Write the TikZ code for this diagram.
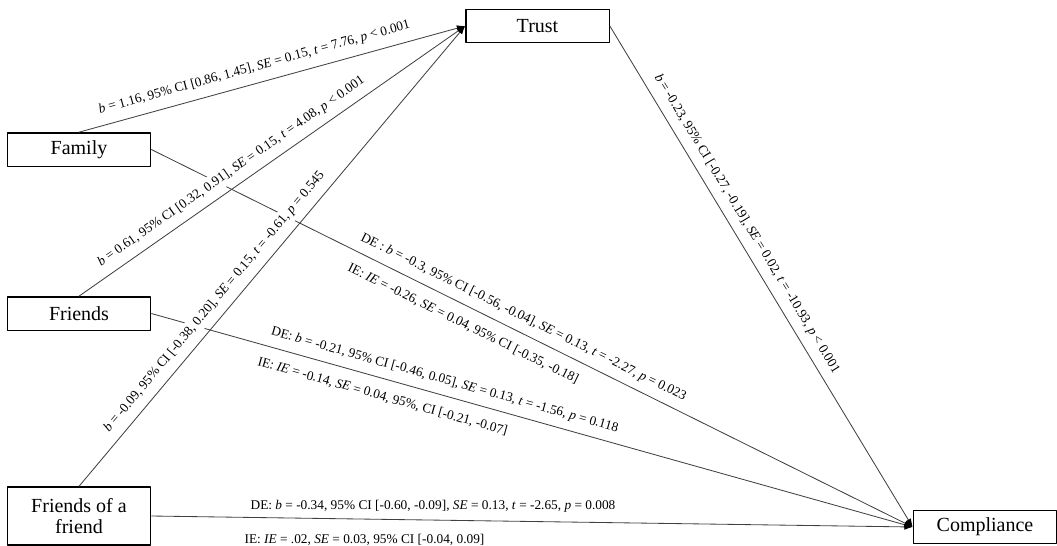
\documentclass[tikz,border=0pt]{standalone}
\usepackage{fontspec}
\setmainfont{Liberation Serif}
\usetikzlibrary{arrows.meta}
\begin{document}
\begin{tikzpicture}[x=0.6pt, y=-0.6pt, font=\fontsize{8}{9.6}\selectfont, line join=round, >={Latex[length=5pt,width=3.6pt,color=black]},
	box/.style={draw, line width=0.8pt, minimum width=86pt, minimum height=20pt, inner sep=2pt, align=center, font=\fontsize{12}{13}\selectfont},
	conn/.style={->, draw=black!75, line width=0.5pt},
	lab/.style={sloped, inner sep=2pt}]
	\useasboundingbox (0,0) rectangle (1057,546); % whole page
	\node[box] (trust) at (537.5,26) {Trust};
	\node[box] (family) at (79,149.5) {Family};
	\node[box] (friends) at (79,313.5) {Friends};
	\node[box, minimum height=34.8pt] (foaf) at (79,516) {Friends of a\\friend};
	\node[box] (compliance) at (985,527) {Compliance};
	% direct paths first, the labels on the trust paths cover them
	\draw[conn] (family.east) -- (compliance.west)
		node[lab, pos=0.48, above=3pt] {DE : \textit{b} = -0.3, 95\% CI [-0.56, -0.04], \textit{SE} = 0.13, \textit{t} = -2.27, \textit{p} = 0.023}
		node[lab, pos=0.42, below=5pt] {IE: \textit{IE} = -0.26, \textit{SE} = 0.04, 95\% CI [-0.35, -0.18]};
	\draw[conn] (friends.east) -- (compliance.west)
		node[lab, pos=0.38, above=3pt] {DE: \textit{b} = -0.21, 95\% CI [-0.46, 0.05], \textit{SE} = 0.13, \textit{t} = -1.56, \textit{p} = 0.118}
		node[lab, pos=0.31, below=5pt] {IE: \textit{IE} = -0.14, \textit{SE} = 0.04, 95\%, CI [-0.21, -0.07]};
	\draw[conn] (foaf.east) -- (compliance.west)
		node[pos=0.37, above=1pt] {DE: \textit{b} = -0.34, 95\% CI [-0.60, -0.09], \textit{SE} = 0.13, \textit{t} = -2.65, \textit{p} = 0.008}
		node[pos=0.28, below=5.5pt] {IE: \textit{IE} = .02, \textit{SE} = 0.03, 95\% CI [-0.04, 0.09]};
	\draw[conn] (family.north) -- (trust.west)
		node[lab, pos=0.465, above=3.5pt, fill=white] {\textit{b} = 1.16, 95\% CI [0.86, 1.45], \textit{SE} = 0.15, \textit{t} = 7.76, \textit{p} < 0.001};
	\draw[conn] (friends.north) -- (trust.west)
		node[lab, pos=0.416, above=3pt, fill=white] {\textit{b} = 0.61, 95\% CI [0.32, 0.91], \textit{SE} = 0.15, \textit{t} = 4.08, \textit{p} < 0.001};
	\draw[conn] (foaf.north) -- (trust.west)
		node[lab, pos=0.38, above=3pt, fill=white] {\textit{b} = -0.09, 95\% CI [-0.38, 0.20], \textit{SE} = 0.15, \textit{t} = -0.61, \textit{p} = 0.545};
	\draw[conn] (trust.east) -- (compliance.west)
		node[lab, pos=0.41, above=3pt] {\textit{b} = -0.23, 95\% CI [-0.27, -0.19], \textit{SE} = 0.02, \textit{t} = -10.93, \textit{p} < 0.001};
\end{tikzpicture}
\end{document}
